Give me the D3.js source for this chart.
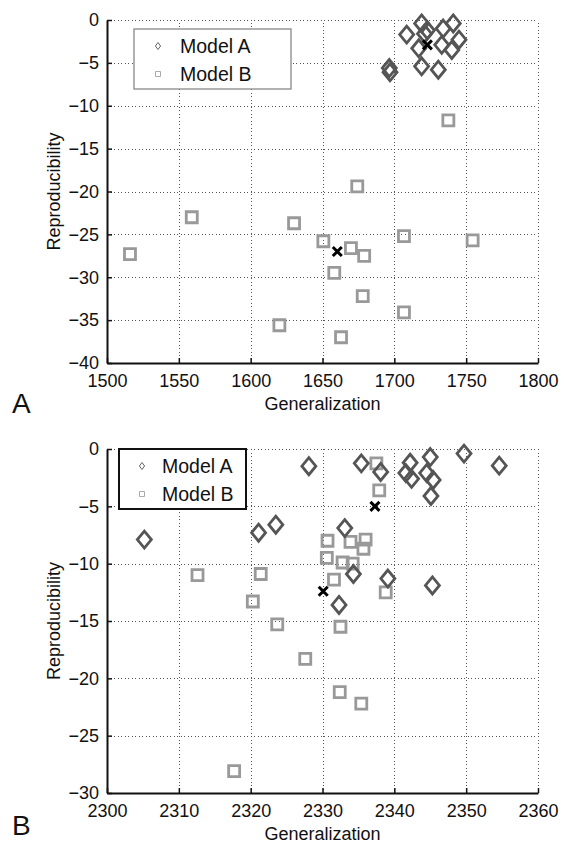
<!DOCTYPE html>
<html>
<head>
<meta charset="utf-8">
<script src="https://cdn.jsdelivr.net/npm/d3@7"></script>
<style>
  body { margin: 0; background: #fff; }
  text { font-family: "Liberation Sans", Arial, sans-serif; fill: #111; }
</style>
</head>
<body>
<svg width="564" height="843"></svg>
<script>
// panel A: [generalization, reproducibility]
var modelA_top = [[1708.6,-1.7],[1719,-0.4],[1723,-1.2],[1721,-1.6],[1734,-1.0],[1741,-0.4],
  [1745,-2.3],[1717,-3.3],[1733,-2.9],[1740,-3.5],[1719,-5.4],[1730.6,-5.8],[1696.5,-5.6],[1697,-6.1]];
var modelB_top = [[1737.6,-11.7],[1674.2,-19.4],[1516,-27.3],[1559,-23.0],[1630.2,-23.7],[1650.6,-25.8],
  [1620,-35.6],[1669.8,-26.6],[1679,-27.5],[1658.2,-29.5],[1678,-32.2],[1706.7,-34.1],[1662.9,-37.0],
  [1706.7,-25.2],[1754.5,-25.7]];
var mean_top = [[1723,-2.9],[1660.3,-27.0]];
var xTicks_top = [1500,1550,1600,1650,1700,1750,1800];
var yTicks_top = [-40,-35,-30,-25,-20,-15,-10,-5,0];

// panel B
var modelA_bot = [[2305.2,-7.9],[2321.1,-7.3],[2323.5,-6.6],[2328.1,-1.5],[2335.4,-1.25],[2338.1,-2.0],
  [2342.2,-1.2],[2341.6,-2.1],[2342.4,-2.6],[2345,-0.7],[2344.5,-2.1],[2345.4,-2.7],[2345.1,-4.1],
  [2349.7,-0.4],[2354.6,-1.45],[2333.1,-6.9],[2334.3,-10.9],[2339.1,-11.3],[2345.3,-11.9],[2332.3,-13.6]];
var modelB_bot = [[2337.5,-1.25],[2337.9,-3.6],[2330.7,-8.0],[2333.9,-8.1],[2336,-7.9],[2335.7,-8.7],
  [2330.6,-9.5],[2332.8,-9.9],[2334.2,-10.0],[2331.6,-11.4],[2338.8,-12.5],[2312.6,-11.0],[2321.4,-10.9],
  [2320.3,-13.3],[2323.7,-15.3],[2327.6,-18.3],[2317.7,-28.1],[2332.5,-15.5],[2332.4,-21.2],[2335.4,-22.2]];
var mean_bot = [[2337.3,-5.0],[2330.1,-12.4]];
var xTicks_bot = [2300,2310,2320,2330,2340,2350,2360];
var yTicks_bot = [-30,-25,-20,-15,-10,-5,0];

var legendNames = ['Model A','Model B'];

var svg = d3.select('svg');
var diamond = 'M0,-8.5L7,0L0,8.5L-7,0Z';
var square = 'M-5.5,-5.5H5.5V5.5H-5.5Z';
var cross = 'M-4.5,-4.5L4.5,4.5M-4.5,4.5L4.5,-4.5';
var fmt = d3.format('d');

function drawPanel(p) {
  var left = 107, right = 538;
  let xScale = d3.scaleLinear().domain(d3.extent(p.xTicks)).range([left,right]);
  let yScale = d3.scaleLinear().domain(d3.extent(p.yTicks)).range([p.bottom,p.top]);
  var g = svg.append('g');

  // dotted grid
  g.append('g').attr('transform','translate(0,'+p.bottom+')')
    .call(d3.axisBottom(xScale).tickValues(p.xTicks).tickSize(p.top-p.bottom).tickFormat(''))
    .call(a => a.select('.domain').remove())
    .selectAll('line').attr('stroke','#555').attr('stroke-dasharray','1,2.5')
    .attr('shape-rendering','crispEdges');
  g.append('g').attr('transform','translate('+left+',0)')
    .call(d3.axisLeft(yScale).tickValues(p.yTicks).tickSize(left-right).tickFormat(''))
    .call(a => a.select('.domain').remove())
    .selectAll('line').attr('stroke','#555').attr('stroke-dasharray','1,2.5')
    .attr('shape-rendering','crispEdges');

  // axes, ticks pointing inward
  var xAxis = g.append('g').attr('transform','translate(0,'+p.bottom+')')
    .call(d3.axisBottom(xScale).tickValues(p.xTicks).tickFormat(fmt)
      .tickSizeInner(-5).tickSizeOuter(0).tickPadding(11));
  var yAxis = g.append('g').attr('transform','translate('+left+',0)')
    .call(d3.axisLeft(yScale).tickValues(p.yTicks).tickFormat(fmt)
      .tickSizeInner(-5).tickSizeOuter(0).tickPadding(8));
  [xAxis,yAxis].forEach(function(a){
    a.select('.domain').attr('stroke','#111').attr('stroke-width',2);
    a.selectAll('line').attr('stroke','#111').attr('stroke-width',1.5);
    a.selectAll('text').attr('font-size',18).attr('fill','#111')
      .style('font-family','"Liberation Sans", Arial, sans-serif');
  });

  g.append('text').attr('x',(left+right)/2).attr('y',p.bottom+47)
    .attr('text-anchor','middle').attr('font-size',18).text('Generalization');
  g.append('text').attr('transform','translate(60,'+(p.top+p.bottom)/2+') rotate(-90)')
    .attr('text-anchor','middle').attr('font-size',18).text('Reproducibility');
  g.append('text').attr('x',12).attr('y',Math.min(p.bottom+50,835)).attr('font-size',28)
    .style('font-weight',300).text(p.label);

  // markers
  g.selectAll('.b').data(p.modelB).enter().append('path')
    .attr('d',square).attr('fill','none').attr('stroke','#999').attr('stroke-width',2.8)
    .attr('transform',d=>'translate('+xScale(d[0])+','+yScale(d[1])+')');
  g.selectAll('.a').data(p.modelA).enter().append('path')
    .attr('d',diamond).attr('fill','none').attr('stroke','#555').attr('stroke-width',2.8)
    .attr('transform',d=>'translate('+xScale(d[0])+','+yScale(d[1])+')');
  g.selectAll('.m').data(p.means).enter().append('path')
    .attr('d',cross).attr('fill','none').attr('stroke','#000').attr('stroke-width',3)
    .attr('transform',d=>'translate('+xScale(d[0])+','+yScale(d[1])+')');

  // legend
  var L = p.legend;
  g.append('rect').attr('x',L.x).attr('y',L.y).attr('width',L.w).attr('height',60)
    .attr('fill','#fff').attr('stroke',L.stroke).attr('stroke-width',L.sw);
  legendNames.forEach(function(name,i){
    var cy = L.y + 17 + i*28;
    g.append('path').attr('d', i==0 ? 'M0,-3.5L2.6,0L0,3.5L-2.6,0Z' : 'M-2.5,-2.5H2.5V2.5H-2.5Z')
      .attr('transform','translate('+(L.x+L.mx)+','+cy+')')
      .attr('fill','none').attr('stroke', i==0 ? '#666' : '#aaa').attr('stroke-width',1);
    g.append('text').attr('x',L.x+L.tx).attr('y',cy+7).attr('font-size',19.5).text(name);
  });
}

drawPanel({top:20, bottom:363, xTicks:xTicks_top, yTicks:yTicks_top, label:'A',
  modelA:modelA_top, modelB:modelB_top, means:mean_top,
  legend:{x:134, y:29, w:157, mx:24, tx:46, stroke:'#888', sw:1.3}});
drawPanel({top:449, bottom:793, xTicks:xTicks_bot, yTicks:yTicks_bot, label:'B',
  modelA:modelA_bot, modelB:modelB_bot, means:mean_bot,
  legend:{x:119, y:449, w:127, mx:23, tx:43, stroke:'#111', sw:2}});
</script>
</body>
</html>
